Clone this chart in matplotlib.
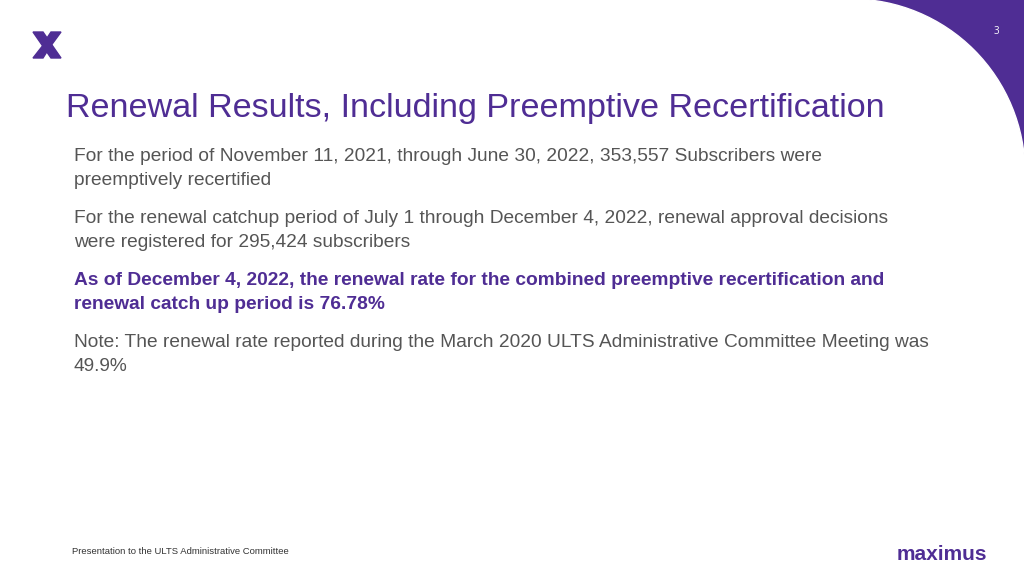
import matplotlib
matplotlib.use("Agg")
import matplotlib.pyplot as plt
from matplotlib.patches import Polygon, Circle, Rectangle

title = "Renewal Results, Including Preemptive Recertification"
paragraphs = [
    ("For the period of November 11, 2021, through June 30, 2022, 353,557 Subscribers were\npreemptively recertified", False),
    ("For the renewal catchup period of July 1 through December 4, 2022, renewal approval decisions\nwere registered for 295,424 subscribers", False),
    ("As of December 4, 2022, the renewal rate for the combined preemptive recertification and\nrenewal catch up period is 76.78%", True),
    ("Note: The renewal rate reported during the March 2020 ULTS Administrative Committee Meeting was\n49.9%", False),
]
para_y = [154, 216, 278, 340]
footer = "Presentation to the ULTS Administrative Committee"
page = "3"

PURPLE = "#4F2D94"
GRAY = "#555555"

fig = plt.figure(figsize=(10.24, 5.76), dpi=100)
ax = fig.add_axes([0, 0, 1, 1])
ax.set_xlim(0, 1024)
ax.set_ylim(576, 0)
ax.axis("off")

ax.add_patch(Rectangle((840, 0), 190, 170, color=PURPLE, zorder=1))
ax.add_patch(Circle((851, 173), 174, color="white", zorder=2))
ax.text(996, 32, page, color="white", fontsize=7, ha="center", va="center",
        family="Open Sans", zorder=3)

# logo X
ax.add_patch(Polygon([(33, 32), (43, 32), (61, 58), (51, 58)], color=PURPLE, zorder=3))
ax.add_patch(Polygon([(51, 32), (61, 32), (50, 47), (45, 41)], color=PURPLE, zorder=3))
ax.add_patch(Polygon([(44, 44), (48, 50), (43, 58), (33, 58)], color=PURPLE, zorder=3))

ax.text(66, 108, title, color=PURPLE, fontsize=24.6, family="Liberation Sans",
        va="center", ha="left", zorder=3)
for (txt, bold), y in zip(paragraphs, para_y):
    ax.text(74, y - 6, txt, color=PURPLE if bold else GRAY, fontsize=13.8,
            family="Liberation Sans", fontweight="bold" if bold else "normal",
            va="top", ha="left", linespacing=1.52, zorder=3)

ax.text(72, 552, footer, color="#333333", fontsize=6.8, family="Liberation Sans",
        va="center", ha="left")
ax.text(942, 554, "maximus", color=PURPLE, fontsize=15, family="Liberation Sans",
        fontweight="bold", va="center", ha="center")

fig.savefig("out.png", dpi=100)
